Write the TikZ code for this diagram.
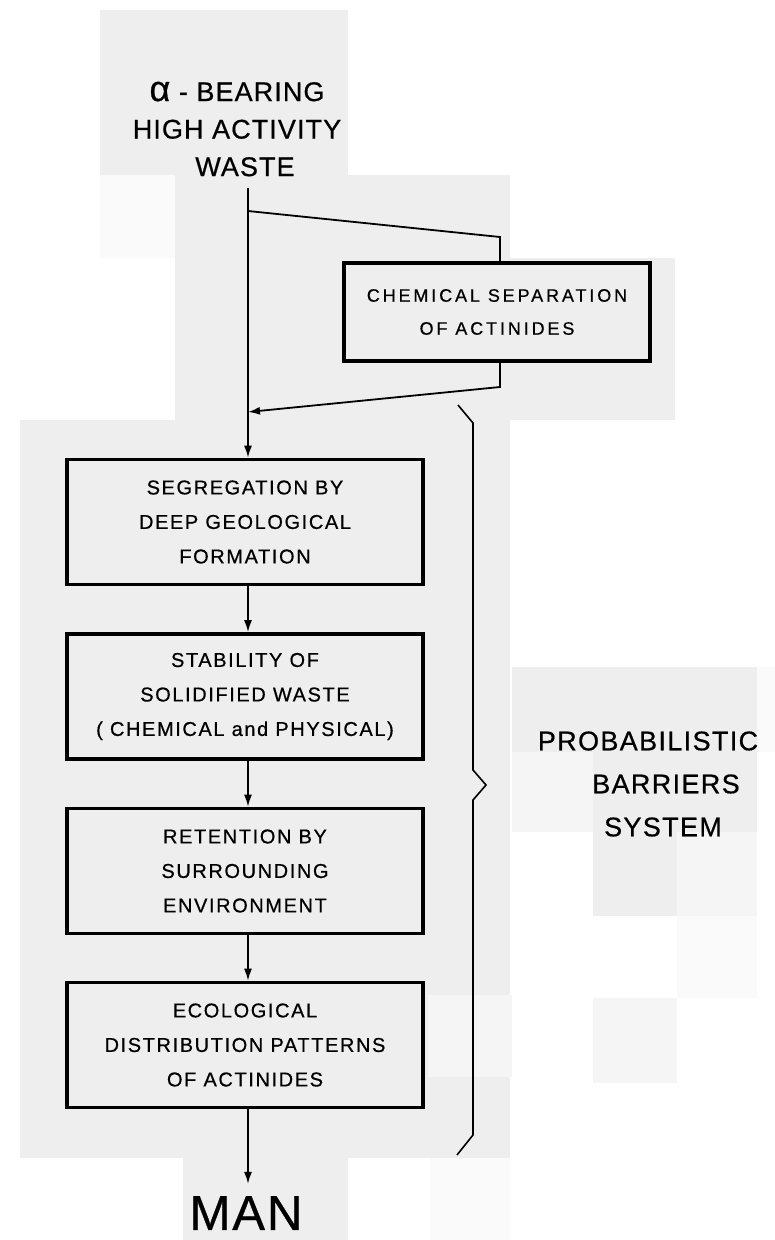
\documentclass[tikz,border=0pt]{standalone}
\usepackage{fontspec}
\setmainfont{Liberation Sans}[FakeBold=0.6]
\usetikzlibrary{arrows.meta,calc}
\definecolor{bgA}{HTML}{EEEEEE}
\definecolor{bgB}{HTML}{F5F5F5}
\definecolor{bgC}{HTML}{FAFAFA}
\newcommand{\boxfont}{\fontsize{20}{34.5}\selectfont\addfontfeature{LetterSpace=8}}
\newcommand{\chemfont}{\fontsize{18}{33}\selectfont\addfontfeature{LetterSpace=16}}
\newcommand{\headfont}{\fontsize{27}{37.5}\selectfont\addfontfeature{LetterSpace=4}}
\newcommand{\labfont}{\fontsize{27}{43}\selectfont\addfontfeature{LetterSpace=5}}
\newcommand{\manfont}{\fontsize{49}{49}\selectfont\addfontfeature{LetterSpace=4}}
\newcommand{\bigalpha}{{\fontsize{36}{36}\selectfont α}}
\begin{document}
\begin{tikzpicture}[x=1pt,y=-1pt,
  boxst/.style={draw, line width=3.6pt, minimum width=356pt, minimum height=125pt,
    align=center, font=\boxfont, inner sep=0pt},
  chemst/.style={draw, line width=3.6pt, minimum width=306pt, minimum height=98pt,
    align=center, font=\chemfont, inner sep=0pt},
  conn/.style={line width=1.8pt, line join=miter},
  arr/.style={conn, -{Latex[length=12pt,width=8pt]}},
  bracest/.style={line width=1.6pt, line join=miter}
]
\useasboundingbox (0,0) rectangle (775,1240);
% background patches of the scan
\fill[white] (0,0) rectangle (775,1240);
\fill[bgA] (100,10) rectangle (348,175);
\fill[bgC] (100,175) rectangle (175,258);
\fill[bgA] (175,175) rectangle (510,420);
\fill[bgA] (345,258) rectangle (675,420);
\fill[bgA] (20,420) rectangle (510,1158);
\fill[bgB] (428,995) rectangle (512,1077);
\fill[bgA] (183,1158) rectangle (348,1240);
\fill[bgC] (430,1158) rectangle (510,1240);
\fill[bgA] (512,667) rectangle (757,752);
\fill[bgC] (757,667) rectangle (775,752);
\fill[bgB] (512,752) rectangle (593,832);
\fill[bgA] (593,752) rectangle (757,832);
\fill[bgA] (593,832) rectangle (677,916);
\fill[bgB] (677,832) rectangle (757,916);
\fill[bgC] (677,916) rectangle (757,998);
\fill[bgB] (593,998) rectangle (677,1083);

% nodes
\node[font=\headfont, align=center, inner sep=0pt, inner ysep=11pt] (top) at (237,129)
  {\bigalpha{} - BEARING\\\hspace*{0pt}HIGH ACTIVITY\\\hspace*{16pt}WASTE};
\node[chemst] (chem) at (497,312) {CHEMICAL SEPARATION\\OF ACTINIDES};
\node[boxst] (b1) at (245,522) {SEGREGATION BY\\DEEP GEOLOGICAL\\FORMATION};
\node[boxst] (b2) at (245,696.5) {STABILITY OF\\SOLIDIFIED WASTE\\( CHEMICAL and PHYSICAL)};
\node[boxst] (b3) at (245,871) {RETENTION BY\\SURROUNDING\\ENVIRONMENT};
\node[boxst] (b4) at (245,1045) {ECOLOGICAL\\DISTRIBUTION PATTERNS\\OF ACTINIDES};
\node[font=\manfont, inner sep=0pt, inner ysep=12pt] (man) at (246,1213) {MAN};
\node[font=\labfont, align=center, inner sep=0pt] (pbs) at (648,784)
  {PROBABILISTIC\\\hspace*{36pt}BARRIERS\\\hspace*{30pt}SYSTEM};

% helper coordinates
\coordinate (spine) at (248,0);
\coordinate (split) at (248,211);
\coordinate (c1) at (500,237);
\coordinate (c2) at (500,387);
\coordinate (join) at (248,412);

% connectors
\draw[arr] (top.south -| spine) -- (b1.north -| spine);
\draw[conn] (split) -- (c1) -- (chem.north -| c1);
\draw[arr] (chem.south -| c1) -- (c2) -- (join);
\draw[arr] (b1.south -| spine) -- (b2.north -| spine);
\draw[arr] (b2.south -| spine) -- (b3.north -| spine);
\draw[arr] (b3.south -| spine) -- (b4.north -| spine);
\draw[arr] (b4.south -| spine) -- (man.north -| spine);

% brace
\draw[bracest] (458,405) -- (473,423) -- (473,770) -- (486,785) -- (473,800)
  -- (473,1135) -- (457,1155);
\end{tikzpicture}
\end{document}
